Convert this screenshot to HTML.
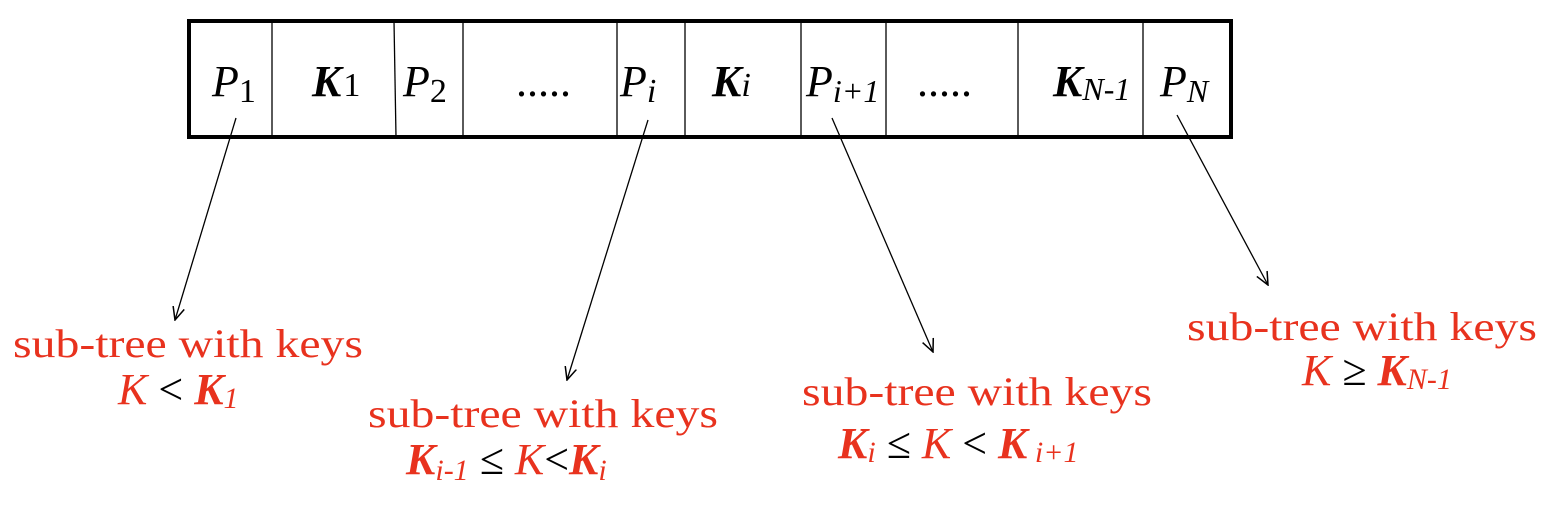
<!DOCTYPE html>
<html><head><meta charset="utf-8"><style>
html,body{margin:0;padding:0;background:#fff;}
svg text, svg tspan{font-family:"Liberation Serif","Times New Roman",Times,serif;}
.r{fill:#e8321e;}
.lb{font-size:44px;font-style:italic;fill:#000;}
.t{font-size:40px;}
.c{font-size:44px;}
</style></head><body>
<svg width="1554" height="500" viewBox="0 0 1554 500" font-family="Liberation Serif, Times New Roman, serif">
<defs><marker id="ah" viewBox="0 0 12 12" refX="11" refY="6" markerWidth="14" markerHeight="14" markerUnits="userSpaceOnUse" orient="auto"><path d="M0,1 L11,6 L0,11" fill="none" stroke="#000" stroke-width="1.3"/></marker></defs>
<g>
<rect x="189" y="21" width="1042" height="116" fill="none" stroke="#000" stroke-width="4"/>
<g stroke="#000" stroke-width="1.3">
<line x1="272" y1="21" x2="272" y2="137"/>
<line x1="394" y1="21" x2="396" y2="137"/>
<line x1="463" y1="21" x2="463" y2="137"/>
<line x1="617" y1="21" x2="617" y2="137"/>
<line x1="685" y1="21" x2="685" y2="137"/>
<line x1="801" y1="21" x2="801" y2="137"/>
<line x1="886" y1="21" x2="886" y2="137"/>
<line x1="1018" y1="21" x2="1018" y2="137"/>
<line x1="1143" y1="21" x2="1143" y2="137"/>
</g>
</g>
<g class="lb">
<text x="212" y="96">P<tspan font-style="normal" font-size="34" dy="6">1</tspan></text>
<text x="312" y="96"><tspan font-weight="bold">K</tspan><tspan font-style="normal" font-size="34" dx="2">1</tspan></text>
<text x="403" y="96">P<tspan font-style="normal" font-size="34" dy="6">2</tspan></text>
<text x="516" y="96" font-style="normal">.....</text>
<text x="620" y="96">P<tspan font-size="34" dy="6">i</tspan></text>
<text x="712" y="96"><tspan font-weight="bold">K</tspan><tspan font-size="34">i</tspan></text>
<text x="806" y="96">P<tspan font-size="32" dy="6">i+1</tspan></text>
<text x="917" y="96" font-style="normal">.....</text>
<text x="1053" y="96"><tspan font-weight="bold">K</tspan><tspan font-size="32" dy="4">N-1</tspan></text>
<text x="1160" y="96">P<tspan font-size="32" dy="6">N</tspan></text>
</g>
<g stroke="#000" stroke-width="1.3" fill="none">
<line x1="236" y1="118" x2="175" y2="320" marker-end="url(#ah)"/>
<line x1="648" y1="120" x2="567" y2="380" marker-end="url(#ah)"/>
<line x1="832" y1="118" x2="933" y2="352" marker-end="url(#ah)"/>
<line x1="1177" y1="115" x2="1268" y2="285" marker-end="url(#ah)"/>
</g>
<g class="t">
<text class="r" x="13" y="357" textLength="350" lengthAdjust="spacingAndGlyphs">sub-tree with keys</text>
<text class="c" x="118" y="404"><tspan class="r" font-style="italic">K</tspan><tspan fill="#000"> &lt; </tspan><tspan class="r" font-style="italic" font-weight="bold">K</tspan><tspan class="r" font-style="italic" font-size="30" dy="4">1</tspan></text>

<text class="r" x="368" y="427" textLength="350" lengthAdjust="spacingAndGlyphs">sub-tree with keys</text>
<text class="c" x="406" y="474"><tspan class="r" font-style="italic" font-weight="bold">K</tspan><tspan class="r" font-style="italic" font-size="30" dy="6">i-1</tspan><tspan fill="#000" dy="-6"> ≤ </tspan><tspan class="r" font-style="italic">K</tspan><tspan fill="#000">&lt;</tspan><tspan class="r" font-style="italic" font-weight="bold">K</tspan><tspan class="r" font-style="italic" font-size="30" dy="6">i</tspan></text>

<text class="r" x="802" y="405" textLength="350" lengthAdjust="spacingAndGlyphs">sub-tree with keys</text>
<text class="c" x="838" y="458"><tspan class="r" font-style="italic" font-weight="bold">K</tspan><tspan class="r" font-style="italic" font-size="30" dy="4">i</tspan><tspan fill="#000" dy="-4"> ≤ </tspan><tspan class="r" font-style="italic">K</tspan><tspan fill="#000"> &lt; </tspan><tspan class="r" font-style="italic" font-weight="bold">K</tspan><tspan class="r" font-style="italic" font-size="30" dy="4"> i+1</tspan></text>

<text class="r" x="1187" y="340" textLength="350" lengthAdjust="spacingAndGlyphs">sub-tree with keys</text>
<text class="c" x="1302" y="385"><tspan class="r" font-style="italic">K</tspan><tspan fill="#000"> ≥ </tspan><tspan class="r" font-style="italic" font-weight="bold">K</tspan><tspan class="r" font-style="italic" font-size="30" dy="4">N-1</tspan></text>
</g>
</svg>
</body></html>
